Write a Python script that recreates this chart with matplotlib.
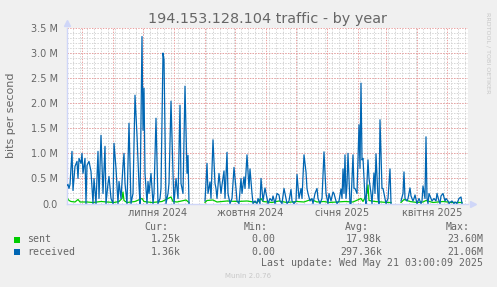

# -*- coding: utf-8 -*-
"""Munin style yearly traffic graph for 194.153.128.104."""

import numpy as np
import matplotlib
matplotlib.use("Agg")
import matplotlib.pyplot as plt
from matplotlib.patches import Rectangle

nan = np.nan

# Day offsets from the graph start (2024-04-16) and received traffic in Mbit/s.
recv_day = [0, 1, 2, 3, 5, 6, 8, 10, 11, 12, 14, 15, 16, 18, 19, 20, 22, 24, 26, 27, 29, 31, 32, 34, 36,
            38, 39, 41, 42, 44, 46, 47, 49, 51, 52, 54, 56, 57, 58, 60, 62, 64, 66, 68, 70, 72, 73, 75,
            76, 77, 78, 80, 81, 82, 84, 86, 87, 89, 91, 93, 94, 96, 97, 98, 99, 101, 102, 104, 106, 107,
            109, 111, 113, 114, 116, 118, 120, 121, 122, 123,
            138, 140, 141, 143, 144, 146, 148, 149, 150, 152, 154, 155, 157, 158, 160, 161, 163, 165, 167,
            169, 170, 172, 174, 175, 177, 178, 180, 182, 183, 185, 186, 188, 190, 191, 193, 194, 196, 198,
            200, 201, 203, 205, 206, 208, 210, 212, 213, 215, 217, 219, 220, 222, 224, 225, 227, 229, 230,
            232, 234, 235, 237, 239, 240, 241, 243, 245, 246, 248, 250, 251, 253, 255, 257, 259, 261, 262,
            264, 266, 267, 269, 270, 272, 274, 275, 276, 277, 278, 279, 280, 281, 283, 284, 286, 287, 288,
            290, 292, 293, 294, 295, 296, 298, 299, 301, 302, 304, 305, 307, 308, 309, 311, 312, 313, 315,
            316, 318, 319, 321, 323, 324, 325,
            334, 336, 337, 338, 340, 341, 343, 344, 346, 347, 348, 350, 351, 352, 354, 355, 356, 358, 359,
            360, 361, 362, 364, 365, 367, 369, 370, 372, 373, 374, 376, 378, 379, 381, 382, 383, 385, 387,
            388, 390, 392, 394, 395]
recv_val = [0.36, 0.38, 0.30, 0.38, 1.04, 0.26, 0.74, 0.84, 0.50, 0.90, 0.80, 1.00, 0.60, 0.90, 0.00, 0.76,
            0.84, 0.64, 0.00, 0.50, 0.00, 1.04, 0.10, 1.36, 0.20, 1.14, 0.00, 0.40, 0.54, 0.10, 0.00, 1.20,
            0.70, 0.00, 0.44, 0.10, 0.76, 1.00, 0.40, 0.00, 1.60, 0.00, 0.20, 2.16, 1.36, 0.36, 0.00, 3.33,
            1.46, 2.30, 0.60, 0.00, 0.44, 0.20, 0.60, 0.00, 0.20, 1.70, 0.00, 0.10, 0.30, 3.00, 2.87, 1.40,
            0.00, 0.20, 0.40, 2.04, 0.60, 0.00, 0.50, 0.10, 1.96, 0.40, 0.20, 2.34, 0.60, 0.96, 0.00, nan,
            0.05, 0.80, 0.20, 0.43, 0.10, 1.27, 0.40, 0.30, 0.10, 0.60, 0.20, 0.37, 0.65, 0.10, 1.02, 0.20,
            0.00, 0.10, 0.72, 0.30, 0.05, 0.00, 0.50, 0.20, 0.53, 0.30, 0.97, 0.30, 0.69, 0.20, 0.00, 0.05,
            0.00, 0.10, 0.00, 0.50, 0.05, 0.31, 0.10, 0.00, 0.10, 0.05, 0.15, 0.00, 0.20, 0.17, 0.05, 0.00,
            0.30, 0.10, 0.00, 0.05, 0.28, 0.05, 0.00, 0.05, 0.58, 0.10, 0.30, 0.10, 0.97, 0.63, 0.30, 0.20,
            0.05, 0.10, 0.00, 0.20, 0.30, 0.10, 0.00, 0.10, 1.03, 0.20, 0.00, 0.20, 0.05, 0.23, 0.20, 0.05,
            0.00, 0.05, 0.29, 0.10, 0.69, 0.20, 0.97, 0.10, 0.37, 1.00, 0.00, 0.00, 0.97, 0.30, 0.30, 0.20,
            1.57, 0.70, 2.40, 0.87, 0.90, 0.10, 0.00, 0.87, 0.50, 0.20, 0.00, 0.61, 0.20, 0.99, 0.10, 0.00,
            1.67, 0.30, 0.30, 0.10, 0.00, 0.10, 0.69, 0.00, nan,
            0.05, 0.20, 0.63, 0.10, 0.05, 0.10, 0.31, 0.15, 0.05, 0.10, 0.17, 0.00, 0.05, 0.10, 0.00, 0.05,
            0.35, 0.10, 1.33, 0.10, 0.00, 0.20, 0.10, 0.05, 0.10, 0.05, 0.20, 0.05, 0.00, 0.15, 0.20, 0.05,
            0.10, 0.05, 0.00, 0.02, 0.05, 0.00, 0.03, 0.00, 0.10, 0.13, 0.00]

# Sent traffic in Mbit/s.
sent_day = [0, 2, 4, 8, 11, 13, 20, 26, 34, 40, 47, 52, 55, 56, 57, 60, 68, 75, 77, 85, 95, 104, 106, 110,
            119, 122, 123,
            138, 140, 146, 150, 160, 170, 180, 190, 194, 196, 205, 212, 220, 230, 237, 244, 250, 257, 262,
            270, 278, 286, 294, 296, 300, 301, 302, 308, 314, 320, 324, 325,
            334, 337, 343, 350, 356, 359, 366, 376, 385, 395]
sent_val = [0.12, 0.06, 0.04, 0.03, 0.08, 0.03, 0.03, 0.02, 0.04, 0.03, 0.02, 0.04, 0.10, 0.23, 0.06, 0.02,
            0.04, 0.10, 0.04, 0.02, 0.04, 0.13, 0.04, 0.03, 0.07, 0.02, nan,
            0.02, 0.06, 0.07, 0.03, 0.05, 0.04, 0.05, 0.02, 0.10, 0.04, 0.02, 0.05, 0.02, 0.04, 0.03, 0.08,
            0.03, 0.04, 0.02, 0.03, 0.04, 0.03, 0.10, 0.04, 0.20, 0.37, 0.06, 0.04, 0.03, 0.02, 0.02, nan,
            0.02, 0.08, 0.04, 0.02, 0.03, 0.06, 0.02, 0.04, 0.02, 0.02]

y_ticks = [0.0, 0.5, 1.0, 1.5, 2.0, 2.5, 3.0, 3.5]
y_labels = ["0.0", "0.5 M", "1.0 M", "1.5 M", "2.0 M", "2.5 M", "3.0 M", "3.5 M"]

month_labels = ["липня 2024", "жовтня 2024", "січня 2025", "квітня 2025"]
label_months = ["2024-07", "2024-10", "2025-01", "2025-04"]

legend_names = ["sent", "received"]
legend_cur = ["1.25k", "1.36k"]
legend_min = ["0.00", "0.00"]
legend_avg = ["17.98k", "297.36k"]
legend_max = ["23.60M", "21.06M"]

# Colours, munin defaults.
BACK = "#f0f0f0"
FONT = "#666666"
AXIS = "#cfd6f8"
C_SENT = "#00cc00"
C_RECV = "#0066b3"

W, H = 497, 287
fig = plt.figure(figsize=(W / 100, H / 100), dpi=100, facecolor=BACK)


def fx(px):
    return px / W


def fy(py):
    return 1 - py / H


left, right, top, bottom = 67, 468, 28, 203.5
ax = fig.add_axes([fx(left), fy(bottom), fx(right - left), (bottom - top) / H])
ax.set_facecolor("white")
ax.set_xlim(0, 401)
ax.set_ylim(0, 3.5)

# Grid: weekly / 0.1M minor (grey), monthly / 0.5M major (red).
start = np.datetime64("2024-04-16")
months = np.arange(np.datetime64("2024-05"), np.datetime64("2025-06"), dtype="datetime64[M]")
month_pos = (months.astype("datetime64[D]") - start).astype(int)
week_pos = np.arange(6, 401, 7)  # Mondays
dots = (0, (1.4, 1.4))
for d in week_pos:
    ax.axvline(d, color="#d4d4d4", lw=0.7, ls=dots, zorder=0)
for v in np.arange(0.1, 3.5, 0.1):
    ax.axhline(v, color="#d4d4d4", lw=0.7, ls=dots, zorder=0)
for d in month_pos:
    ax.axvline(d, color="#eaa0a0", lw=0.7, ls=dots, zorder=0.5)
for v in y_ticks[1:]:
    ax.axhline(v, color="#eaa0a0", lw=0.7, ls=dots, zorder=0.5)

# Data lines.
ax.plot(sent_day, sent_val, color=C_SENT, lw=0.9, zorder=2)
ax.plot(recv_day, recv_val, color=C_RECV, lw=0.9, zorder=3)

# Axes and arrows.
for s in ["top", "right"]:
    ax.spines[s].set_visible(False)
for s in ["left", "bottom"]:
    ax.spines[s].set_color(AXIS)
    ax.spines[s].set_linewidth(1.0)
ax.plot([0], [1.03], marker="^", ms=5, color=AXIS, transform=ax.transAxes, clip_on=False)
ax.plot([1.012], [0], marker=">", ms=5, color=AXIS, transform=ax.transAxes, clip_on=False)

ax.set_yticks(y_ticks, y_labels)
label_pos = [(np.datetime64(m + "-01") - start).astype(int) + 15 for m in label_months]
ax.set_xticks(label_pos, month_labels)
ax.tick_params(axis="both", length=0, labelsize=7, colors=FONT)
ax.tick_params(axis="y", pad=6.5)
ax.tick_params(axis="x", pad=3)

# Title and labels.
fig.text(fx(267.5), fy(19), "194.153.128.104 traffic - by year", ha="center", va="center",
         fontsize=10.4, color=FONT)
fig.text(fx(11), fy(115.5), "bits per second", rotation=90, ha="center", va="center",
         fontsize=8, color=FONT)
fig.text(fx(488.5), fy(53), "RRDTOOL / TOBI OETIKER", rotation=-90, ha="center", va="center",
         fontsize=4.6, color="#c8c8c8")

# Legend block.
mono = dict(family="DejaVu Sans Mono", fontsize=7.1, color=FONT, va="center")
for x, t in zip([168, 268, 369, 470], ["Cur:", "Min:", "Avg:", "Max:"]):
    fig.text(fx(x), fy(227.3), t, ha="right", **mono)

rows_y = [239.5, 251.7]
colors = [C_SENT, C_RECV]
for i in range(2):
    y = rows_y[i]
    fig.patches.append(Rectangle((fx(14), fy(y + 3)), fx(6), 6 / H, transform=fig.transFigure,
                                 facecolor=colors[i], edgecolor="none"))
    fig.text(fx(27), fy(y), legend_names[i], ha="left", **mono)
    fig.text(fx(181), fy(y), legend_cur[i], ha="right", **mono)
    fig.text(fx(275), fy(y), legend_min[i], ha="right", **mono)
    fig.text(fx(382), fy(y), legend_avg[i], ha="right", **mono)
    fig.text(fx(483), fy(y), legend_max[i], ha="right", **mono)

fig.text(fx(483), fy(263.5), "Last update: Wed May 21 03:00:09 2025", ha="right", **mono)
fig.text(fx(248), fy(276), "Munin 2.0.76", ha="center", va="center", fontsize=5, color="#c8c8c8")

fig.savefig("out.png", dpi=100, facecolor=BACK)
